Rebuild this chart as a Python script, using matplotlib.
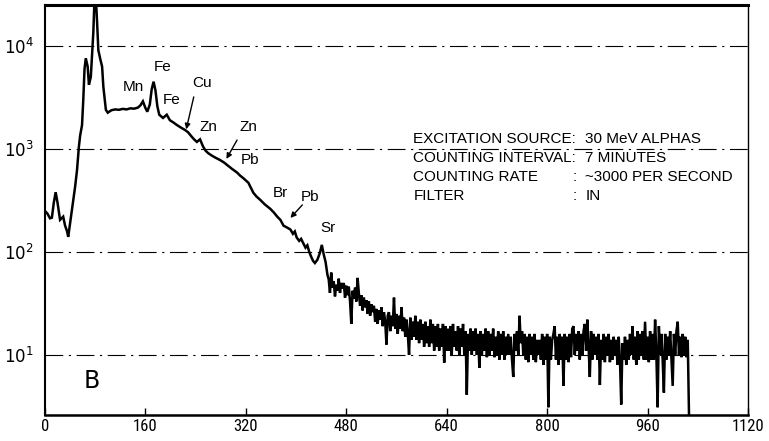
import os
import numpy as np
import matplotlib
matplotlib.use('Agg')
import matplotlib.pyplot as plt
from matplotlib import font_manager

# low channels: peaks and the smooth continuum (channel, counts)
head_ch = [0, 4, 8, 11, 14, 17, 20, 24, 29, 32, 35, 37, 40, 43, 48, 51, 54, 56, 59, 61,
           63, 65, 68, 70, 73, 77, 79, 81, 83, 85, 88, 91, 93, 97, 100, 106, 112, 118, 124, 130,
           136, 142, 148, 152, 156, 160, 163, 167, 170, 173, 176, 179, 182, 188, 194, 199, 205, 210, 216, 223,
           228, 234, 238, 242, 247, 252, 256, 260, 266, 272, 279, 285, 290, 298, 306, 311, 316, 320, 324, 328,
           332, 337, 343, 350, 359, 365, 370, 375, 380, 386, 391, 395, 398, 401, 405, 408, 412, 415, 418, 421,
           424, 427, 430, 434, 438, 441, 444, 447, 450]
head_counts = [250, 235, 212, 215, 300, 380, 300, 205, 220, 180, 160, 140, 190, 260, 430, 620, 1050, 1350, 1700, 3000,
               6000, 7600, 6300, 4200, 5000, 13500, 30000, 30000, 17000, 9100, 7500, 6300, 4000, 2400, 2250, 2380, 2420, 2400, 2450, 2420,
               2480, 2460, 2520, 2650, 2900, 2500, 2300, 2700, 3800, 4500, 3700, 2600, 2150, 2000, 2150, 1900, 1800, 1710, 1620, 1530,
               1450, 1310, 1230, 1170, 1240, 1050, 960, 910, 860, 820, 780, 740, 700, 640, 590, 550, 520, 495, 470, 420,
               375, 345, 320, 290, 262, 240, 220, 205, 180, 172, 165, 150, 158, 138, 128, 134, 120, 110, 116, 100,
               90, 82, 78, 84, 98, 117, 95, 80, 60]

# high channels, every 2nd channel from 452 to 1026 (12 per row)
tail_ch = np.arange(452, 1027, 2)
tail_counts = [54, 40, 63, 45, 52, 37, 48, 42, 55, 40, 50, 44,
               50, 36, 47, 38, 46, 33, 20, 42, 35, 45, 33, 56,
               40, 30, 38, 27, 36, 29, 34, 25, 33, 24, 31, 26,
               30, 21, 28, 20, 27, 22, 29, 19, 26, 21, 12.6, 24,
               26, 17, 24, 19, 36, 18, 25, 16, 24, 18, 29, 17,
               23, 15, 22, 16, 10, 23, 14, 21, 15, 24, 14, 21,
               13, 22, 14, 20, 12, 21, 13, 19, 12, 22, 13, 20,
               11, 19, 12, 20, 11, 18, 12, 20, 8.4, 19, 11, 18,
               11, 19, 10, 20, 12, 17, 11, 19, 10, 18, 12, 20,
               10, 17, 4.1, 16, 11, 18, 10, 17, 11, 18, 10, 16,
               7.5, 17, 10, 16, 11, 18, 9.5, 17, 10, 16, 11, 18,
               9.5, 15, 10, 17, 9, 16, 10, 17, 9, 15, 10, 16,
               10, 15, 9, 6.1, 16, 11, 17, 10, 24, 13, 17, 10,
               16, 9, 15, 8.5, 16, 10, 15, 9, 16, 8.5, 14, 10,
               14, 9, 16, 8, 15, 9, 16, 3.1, 15, 9, 14, 16,
               19, 9, 15, 8, 16, 9, 15, 5.0, 16, 9, 15, 8.5,
               16, 9.5, 18, 19, 10, 16, 11, 17, 9, 16, 10, 17,
               20, 11, 22, 12, 6.1, 17, 9, 16, 10, 15, 9, 16,
               5.1, 14, 9, 16, 8.5, 15, 10, 16, 8.5, 14, 9, 15,
               10, 14, 8, 15, 9, 3.3, 13, 9, 15, 8, 14, 9,
               16, 10, 19, 9, 15, 8, 17, 9, 16, 10, 17, 9,
               21, 9, 15, 8.5, 17, 9, 16, 9, 22, 10, 3.1, 19,
               10, 16, 9, 4.3, 16, 9, 15, 10, 17, 9, 5.0, 16,
               10, 17, 21, 10, 15, 9.5, 16, 10, 15, 9.5, 14, 2.6]

ch = np.concatenate([head_ch, tail_ch])
counts = np.concatenate([head_counts, tail_counts])

peak_names = ['Mn', 'Fe', 'Fe', 'Cu', 'Zn', 'Zn', 'Pb', 'Br', 'Pb', 'Sr']
peak_x = [141, 188, 202, 250, 260, 324, 327, 375, 422, 451]
peak_y = [4000, 6250, 2990, 4380, 1630, 1630, 780, 375, 340, 171]

info_keys = ['EXCITATION SOURCE:', 'COUNTING INTERVAL:', 'COUNTING RATE', 'FILTER']
info_vals = ['30 MeV ALPHAS', '7 MINUTES', '~3000 PER SECOND', 'IN']


def narrow_font():
    # look for an installed narrow / condensed sans face
    wanted = ['liberationsansnarrow-regular', 'notosans-extracondensed.', 'notosans-condensed.',
              'opensans_condensed-regular', 'opensans-condensed', 'robotocondensed-regular',
              'roboto_condensed-regular', 'notosans-semicondensed.', 'dejavusanscondensed.ttf']
    files = [f.fname for f in font_manager.fontManager.ttflist]
    for w in wanted:
        for fn in files:
            if w in os.path.basename(fn).lower():
                return fn
    return None


nf = narrow_font()
if nf:
    tick_font = font_manager.FontProperties(fname=nf)
    tick_size = 12
else:
    tick_font = font_manager.FontProperties(family=['Liberation Sans', 'DejaVu Sans'])
    tick_size = 10.5
text_font = font_manager.FontProperties(family=['Liberation Sans', 'DejaVu Sans'])

fig = plt.figure(figsize=(7.69, 4.41), dpi=100)
ax = fig.add_axes([0.0585, 0.059, 0.9142, 0.9297])

ax.plot(ch, counts, color='black', lw=1.8, solid_joinstyle='miter')

ax.set_yscale('log')
ax.set_xlim(0, 1120)
ax.set_ylim(2.61, 25000)

ax.set_xticks(np.arange(0, 1121, 160))
ax.set_xticklabels([str(v) for v in range(0, 1121, 160)], fontproperties=tick_font, fontsize=tick_size)
ax.set_yticks([10, 100, 1000, 10000])
ax.set_yticklabels([r'$\mathregular{10^{%d}}$' % k for k in range(1, 5)], fontsize=12)
ax.yaxis.set_minor_locator(matplotlib.ticker.NullLocator())
ax.tick_params(axis='x', direction='in', length=5, width=1, top=False, pad=3)
ax.tick_params(axis='y', length=0, pad=8)

for y in [10, 100, 1000, 10000]:
    ax.axhline(y, color='black', lw=0.8, ls=(0, (16, 5, 2, 5)), zorder=0)

ax.spines['top'].set_linewidth(2.2)
ax.spines['bottom'].set_linewidth(1.8)
ax.spines['left'].set_linewidth(1.5)
ax.spines['right'].set_linewidth(1.0)

for name, x, y in zip(peak_names, peak_x, peak_y):
    ax.text(x, y, name, fontproperties=text_font, fontsize=11, ha='center', va='center')

arrow_kw = dict(arrowstyle='-|>', color='black', lw=1.0, mutation_scale=8,
                shrinkA=0, shrinkB=0)
ax.annotate('', xy=(225, 1550), xytext=(237, 3200), arrowprops=arrow_kw)
ax.annotate('', xy=(289, 800), xytext=(306, 1220), arrowprops=arrow_kw)
ax.annotate('', xy=(391, 214), xytext=(410, 286), arrowprops=arrow_kw)

# settings block: keys first, then colon and values placed after the widest key
info_y = [1250, 818, 535, 350]
key_texts = [ax.text(587, y, key, fontproperties=text_font, fontsize=11, ha='left', va='center')
             for key, y in zip(info_keys, info_y)]
fig.canvas.draw()
renderer = fig.canvas.get_renderer()
right_px = max(t.get_window_extent(renderer).x1 for t in key_texts)
to_data = ax.transData.inverted()
x_colon = to_data.transform((right_px - 4, 0))[0]
x_val = to_data.transform((right_px + 9, 0))[0]
for key, val, y in zip(info_keys, info_vals, info_y):
    if not key.endswith(':'):
        ax.text(x_colon, y, ':', fontproperties=text_font, fontsize=11, ha='left', va='center')
    ax.text(x_val, y, val, fontproperties=text_font, fontsize=11, ha='left', va='center')

ax.text(75, 5.6, 'B', fontsize=17, ha='center', va='center')

fig.savefig('out.png', dpi=100, facecolor='white')
